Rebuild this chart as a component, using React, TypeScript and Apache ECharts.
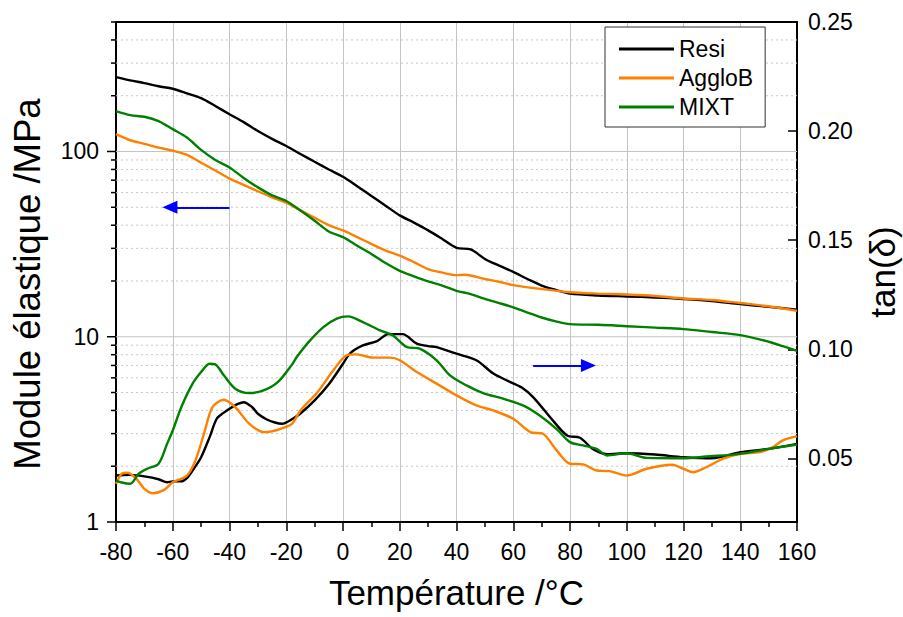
import React, { useEffect, useRef } from "react";
import * as echarts from "echarts";

// ---- Data ----
const X_MIN = -80;
const X_MAX = 160;
const X_TICK_STEP = 20;
const E_MIN = 1;
const E_MAX = 500;
const TAN_MIN = 0.0209;
const TAN_MAX = 0.25;
const SERIES_NAMES = ["Resi", "AggloB", "MIXT"];
const SERIES_COLORS = ["#000000", "#FF8000", "#008000"];

// Modulus (MPa) vs temperature (°C)
const resiModulus: [number, number][] = [
  [-80, 252], [-75, 242], [-70, 234], [-65, 225], [-60, 218], [-55, 206], [-50, 194],
  [-45, 176], [-40, 159], [-35, 144], [-30, 129], [-25, 117], [-20, 107], [-15, 97],
  [-10, 88], [-5, 80], [0, 73], [5, 65], [10, 57.5], [15, 51], [20, 45.2], [25, 41.3],
  [30, 37.5], [35, 33.7], [40, 30.2], [45, 29.6], [50, 26.3], [55, 24.2], [60, 22.4],
  [65, 20.5], [70, 18.9], [75, 17.9], [80, 17.1], [90, 16.7], [100, 16.5], [110, 16.3],
  [120, 16.0], [130, 15.6], [140, 15.0], [150, 14.5], [160, 14.0],
];
const aggloModulus: [number, number][] = [
  [-80, 124], [-75, 115], [-70, 110], [-65, 105], [-60, 101], [-55, 96], [-50, 87],
  [-45, 79], [-40, 71.4], [-35, 66], [-30, 61], [-25, 56.5], [-20, 53], [-15, 48.1],
  [-10, 43.9], [-5, 40], [0, 37.5], [5, 34.5], [10, 31.7], [15, 29.2], [20, 27.4],
  [25, 25.3], [30, 23.2], [35, 22.2], [40, 21.5], [43, 21.6], [50, 20.5], [55, 19.8],
  [60, 19.0], [70, 18.1], [80, 17.4], [90, 17.1], [100, 16.9], [110, 16.6], [120, 16.1],
  [130, 15.8], [140, 15.2], [150, 14.6], [160, 13.8],
];
const mixtModulus: [number, number][] = [
  [-80, 165], [-75, 157], [-70, 154], [-65, 146], [-60, 132], [-55, 119], [-50, 102],
  [-45, 90], [-40, 82], [-35, 72], [-30, 64], [-25, 58], [-20, 54], [-15, 48],
  [-10, 42.3], [-5, 37], [0, 34.5], [5, 31], [10, 28], [15, 25], [20, 22.7], [25, 21.2],
  [30, 19.9], [35, 18.9], [40, 17.7], [45, 17.0], [50, 16.0], [55, 15.2], [60, 14.4],
  [65, 13.5], [70, 12.7], [75, 12.1], [80, 11.7], [90, 11.6], [100, 11.4], [110, 11.2],
  [120, 11.0], [130, 10.6], [140, 10.2], [150, 9.4], [155, 8.9], [160, 8.4],
];

// tan(delta) vs temperature (°C)
const resiTan: [number, number][] = [
  [-80, 0.0422], [-75, 0.0425], [-70, 0.0418], [-65, 0.0405], [-62, 0.0391], [-60, 0.0395],
  [-57, 0.0395], [-55, 0.041], [-53, 0.0445], [-50, 0.0506], [-47, 0.0598], [-44.5, 0.0682],
  [-42, 0.071], [-40, 0.0728], [-37, 0.075], [-35, 0.0758], [-32, 0.0735], [-30, 0.0705],
  [-27, 0.068], [-24, 0.0665], [-21.5, 0.0659], [-18, 0.068], [-15, 0.0706], [-10, 0.0766],
  [-5, 0.084], [0, 0.0934], [2.5, 0.0982], [7, 0.1018], [12, 0.1038], [16, 0.107],
  [21, 0.107], [26, 0.1026], [30, 0.1015], [33, 0.101], [40, 0.098], [47, 0.095],
  [53, 0.0889], [59, 0.085], [63, 0.0825], [67, 0.0781], [73, 0.0689], [79, 0.0605],
  [83.5, 0.0595], [88, 0.0544], [93, 0.052], [100, 0.0524], [110, 0.0518], [120, 0.0506],
  [130, 0.0501], [140, 0.0529], [150, 0.0544], [160, 0.0567],
];
const aggloTan: [number, number][] = [
  [-80, 0.0384], [-78, 0.043], [-76, 0.0435], [-73, 0.041], [-70, 0.0361], [-67, 0.0341],
  [-63, 0.0356], [-60, 0.0391], [-55, 0.0422], [-52, 0.0491], [-49, 0.0613], [-46, 0.0735],
  [-42, 0.0769], [-38, 0.0735], [-33, 0.0659], [-28, 0.0621], [-25, 0.0625], [-22, 0.0636],
  [-18, 0.0659], [-15, 0.072], [-9, 0.0804], [-3.4, 0.0904], [1.3, 0.0973], [4.8, 0.0977],
  [10.6, 0.0962], [16.6, 0.0962], [20, 0.095], [26, 0.0896], [33, 0.0843], [40, 0.0789],
  [47, 0.0743], [53, 0.072], [60, 0.0682], [66, 0.0621], [70.5, 0.0613], [75.3, 0.0537],
  [80, 0.0476], [84.7, 0.0473], [89.4, 0.0445], [94, 0.0442], [100, 0.0422], [107, 0.0453],
  [116, 0.0471], [120, 0.0453], [123.4, 0.0437], [128, 0.046], [134, 0.0499], [140, 0.0521],
  [147, 0.0529], [151.5, 0.0552], [155, 0.0583], [160, 0.0601],
];
const mixtTan: [number, number][] = [
  [-80, 0.0399], [-78, 0.039], [-75, 0.0384], [-72, 0.043], [-69, 0.0453], [-65, 0.0476],
  [-62, 0.0567], [-60, 0.0628], [-57, 0.0735], [-53, 0.0843], [-50, 0.0896], [-47, 0.0934],
  [-45, 0.0931], [-42, 0.0881], [-38, 0.082], [-33, 0.08], [-28, 0.0812], [-23, 0.085],
  [-18, 0.093], [-16.3, 0.0965], [-11.6, 0.1041], [-6.9, 0.1102], [-2.2, 0.1141],
  [1.8, 0.1151], [7, 0.1125], [13, 0.1087], [17.6, 0.1064], [22.4, 0.1011], [27, 0.1003],
  [33, 0.095], [37.7, 0.0881], [43.5, 0.0835], [49.4, 0.08], [56.4, 0.0774], [63.4, 0.0743],
  [69.3, 0.0697], [75.2, 0.0636], [80, 0.0575], [84.6, 0.056], [89.4, 0.0544], [93, 0.0514],
  [100, 0.0524], [107, 0.0503], [120, 0.0501], [128, 0.0509], [140, 0.0521], [150, 0.0544],
  [160, 0.0564],
];

// log-axis gridlines: value, 1 = decade
const LOG_GRID: [number, number][] = [
  [1, 1], [2, 0], [3, 0], [4, 0], [5, 0], [6, 0], [7, 0], [8, 0], [9, 0],
  [10, 1], [20, 0], [30, 0], [40, 0], [50, 0], [60, 0], [70, 0], [80, 0], [90, 0],
  [100, 1], [200, 0], [300, 0], [400, 0], [500, 0],
];

// Arrows (data coordinates on the modulus axis)
const LEFT_ARROW: [[number, number], [number, number]] = [[-40, 50], [-61, 50]];
const RIGHT_ARROW: [[number, number], [number, number]] = [[67, 7.0], [86.5, 7.0]];

const FONT = "'Liberation Sans', Arial, Helvetica, sans-serif";

export default function App() {
  const ref = useRef<HTMLDivElement>(null);
  useEffect(() => {
    if (!ref.current) return;
    const chart = echarts.init(ref.current, null, { renderer: "svg" });
    const modulus = [resiModulus, aggloModulus, mixtModulus];
    const tans = [resiTan, aggloTan, mixtTan];
    const series: any[] = [];

    series.push({
      type: "custom",
      name: "loggrid",
      xAxisIndex: 0,
      yAxisIndex: 0,
      clip: false,
      silent: true,
      z: 1,
      encode: { x: 0, y: 1 },
      data: LOG_GRID.map(([v, m]) => [X_MIN, v, m]),
      renderItem: (params: any, api: any) => {
        const v = api.value(1);
        const major = api.value(2) === 1;
        const a = api.coord([X_MIN, v]);
        const b = api.coord([X_MAX, v]);
        const children: any[] = [];
        if (v > E_MIN && v < E_MAX) {
          children.push({
            type: "line",
            shape: { x1: a[0], y1: a[1], x2: b[0], y2: b[1] },
            style: major
              ? { stroke: "#c4c4c4", lineWidth: 1 }
              : { stroke: "#c8c8c8", lineWidth: 1, lineDash: [2, 3] },
          });
        }
        const len = major ? 9 : 5;
        children.push({
          type: "line",
          shape: { x1: a[0] - len, y1: a[1], x2: a[0], y2: a[1] },
          style: { stroke: "#000", lineWidth: 1.5 },
        });
        return { type: "group", children };
      },
    });

    SERIES_NAMES.forEach((name, i) => {
      const s: any = {
        type: "line",
        name,
        xAxisIndex: 0,
        yAxisIndex: 0,
        data: modulus[i],
        symbol: "none",
        showSymbol: false,
        smooth: 0.3,
        lineStyle: { color: SERIES_COLORS[i], width: 2.4 },
        itemStyle: { color: SERIES_COLORS[i] },
        z: 3,
      };
      if (i === 0) {
        s.markLine = {
          silent: true,
          symbol: ["none", "triangle"],
          symbolSize: [13, 15],
          label: { show: false },
          lineStyle: { color: "#0000FF", width: 2, type: "solid" },
          data: [
            [{ coord: LEFT_ARROW[0] }, { coord: LEFT_ARROW[1] }],
            [{ coord: RIGHT_ARROW[0] }, { coord: RIGHT_ARROW[1] }],
          ],
        };
      }
      series.push(s);
      series.push({
        type: "line",
        name,
        xAxisIndex: 0,
        yAxisIndex: 1,
        data: tans[i],
        symbol: "none",
        showSymbol: false,
        smooth: 0.3,
        lineStyle: { color: SERIES_COLORS[i], width: 2.4 },
        itemStyle: { color: SERIES_COLORS[i] },
        z: 3,
      });
    });

    const tickLabel = { fontFamily: FONT, fontSize: 23, color: "#000" };

    chart.setOption({
      animation: false,
      grid: {
        left: 116,
        right: 106,
        top: 22,
        bottom: 95,
        containLabel: false,
        outerBoundsMode: "none",
      },
      legend: {
        data: SERIES_NAMES.map((n) => ({ name: n, icon: "rect" })),
        orient: "vertical",
        left: 605,
        top: 27,
        padding: [10, 12, 8, 14],
        itemGap: 5,
        itemWidth: 55,
        itemHeight: 3,
        backgroundColor: "#ffffff",
        borderColor: "#333333",
        borderWidth: 1,
        borderRadius: 0,
        textStyle: { fontFamily: FONT, fontSize: 23, color: "#000", lineHeight: 24 },
        selectedMode: false,
      },
      xAxis: [
        {
          type: "value",
          min: X_MIN,
          max: X_MAX,
          interval: X_TICK_STEP,
          position: "bottom",
          name: "Température /°C",
          nameLocation: "middle",
          nameGap: 53,
          nameTextStyle: { fontFamily: FONT, fontSize: 35, color: "#000" },
          axisLine: { show: true, onZero: false, lineStyle: { color: "#000", width: 2 } },
          axisTick: { show: true, inside: false, length: 9, lineStyle: { color: "#000", width: 1.5 } },
          minorTick: { show: true, splitNumber: 2, length: 5, lineStyle: { color: "#000", width: 1.5 } },
          axisLabel: { ...tickLabel, margin: 18 },
          splitLine: { show: true, lineStyle: { color: "#c4c4c4", width: 1 } },
        },
        {
          type: "value",
          min: X_MIN,
          max: X_MAX,
          interval: X_TICK_STEP,
          position: "top",
          axisLine: { show: true, onZero: false, lineStyle: { color: "#000", width: 2 } },
          axisTick: { show: false },
          axisLabel: { show: false },
          splitLine: { show: false },
        },
      ],
      yAxis: [
        {
          type: "log",
          logBase: 10,
          min: E_MIN,
          max: E_MAX,
          position: "left",
          name: "Module élastique /MPa",
          nameLocation: "middle",
          nameRotate: 90,
          nameGap: 70,
          nameTextStyle: {
            fontFamily: FONT,
            fontSize: 36.5,
            color: "#000",
            padding: [0, 24, 0, 0],
          },
          axisLine: { show: true, onZero: false, lineStyle: { color: "#000", width: 2 } },
          axisTick: { show: false },
          axisLabel: {
            ...tickLabel,
            margin: 17,
            formatter: (v: number) => {
              const r = Math.round(v);
              return Math.abs(v - r) < 1e-6 && (r === 1 || r === 10 || r === 100) ? String(r) : "";
            },
          },
          splitLine: { show: false },
        },
        {
          type: "value",
          min: TAN_MIN,
          max: TAN_MAX,
          splitNumber: 5,
          position: "right",
          name: "tan(δ)",
          nameLocation: "middle",
          nameRotate: 90,
          nameGap: 68,
          nameTextStyle: { fontFamily: FONT, fontSize: 35, color: "#000" },
          axisLine: { show: true, onZero: false, lineStyle: { color: "#000", width: 2 } },
          axisTick: { show: true, inside: true, length: 9, lineStyle: { color: "#000", width: 1.5 } },
          axisLabel: {
            ...tickLabel,
            margin: 11,
            showMinLabel: false,
            formatter: (v: number) => {
              const k = v / 0.05;
              return Math.abs(k - Math.round(k)) < 1e-6 ? v.toFixed(2) : "";
            },
          },
          splitLine: { show: false },
        },
      ],
      series,
    });
    return () => chart.dispose();
  }, []);
  return (
    <div
      ref={ref}
      style={{ position: "fixed", left: 0, top: 0, width: 903, height: 617, background: "#fff" }}
    />
  );
}
